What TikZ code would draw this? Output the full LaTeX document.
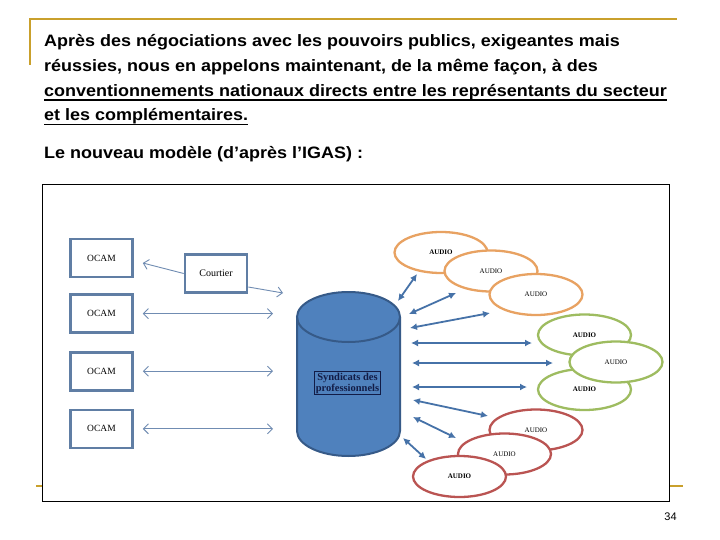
\documentclass[tikz,border=0pt]{standalone}
\usepackage{fontspec}
\usepackage{graphicx}
\setmainfont{Liberation Serif}
\setsansfont{Liberation Sans}
\usetikzlibrary{arrows.meta,positioning,shapes.geometric}
\definecolor{gold}{RGB}{201,160,44}
\definecolor{ocamblue}{RGB}{96,126,164}
\definecolor{thinblue}{RGB}{112,140,178}
\definecolor{cylfill}{RGB}{79,129,189}
\definecolor{cyldraw}{RGB}{54,90,136}
\definecolor{navy}{RGB}{18,28,70}
\definecolor{audorange}{RGB}{232,162,98}
\definecolor{audgreen}{RGB}{158,188,96}
\definecolor{audred}{RGB}{186,84,82}
\definecolor{arrblue}{RGB}{70,114,168}
\tikzset{
  headline/.style={anchor=base west, inner sep=0pt, font=\sffamily\bfseries\fontsize{16.5}{20}\selectfont},
  uline/.style={line width=1.3pt},
  actor/.style={draw=ocamblue, line width=2.6pt, fill=white, minimum width=62pt,
    minimum height=38pt, font=\fontsize{9.5}{11}\selectfont},
  audio/.style={ellipse, line width=2.3pt, fill=white, minimum width=93pt,
    minimum height=41pt, inner sep=0pt, font=\fontsize{7}{8}\selectfont},
  thinflow/.style={draw=thinblue, line width=0.9pt},
  bidir/.style={draw=arrblue, line width=1.8pt,
    {Latex[length=7pt,width=7pt]}-{Latex[length=7pt,width=7pt]}}
}
\newcommand{\barb}{Straight Barb[length=5pt,width=10pt]}
\newcommand{\wide}[1]{\scalebox{1.09}[1]{#1}}

\begin{document}
\begin{tikzpicture}[x=1pt, y=-1pt]
  \useasboundingbox[fill=white] (0,0) rectangle (720,540);

  % cadre du titre
  \draw[gold, line width=2.5pt] (30,65) -- (30,19) -- (677,19);
  \draw[gold, line width=2.5pt] (36,486) -- (683,486);

  \node[headline] (l1) at (44,46.5) {\wide{Après des négociations avec les pouvoirs publics, exigeantes mais}};
  \node[headline] (l2) at (44,72) {\wide{réussies, nous en appelons maintenant, de la même façon, à des}};
  \node[headline] (l3) at (44,96.5) {\wide{conventionnements nationaux directs entre les représentants du secteur}};
  \node[headline] (l4) at (44,121) {\wide{et les complémentaires.}};
  \node[headline] (l5) at (44,159) {\wide{Le nouveau modèle (d’après l’IGAS) :}};
  \draw[uline] ([yshift=-3.5pt]l3.base west) -- ([yshift=-3.5pt]l3.base east);
  \draw[uline] ([yshift=-3.5pt]l4.base west) -- ([yshift=-3.5pt]l4.base east);

  \draw[fill=white, line width=0.8pt] (42,184) rectangle (669,501);

  % OCAM et courtier
  \node[actor] (ocam1) at (101.5,258) {OCAM};
  \node[actor, below=15pt of ocam1] (ocam2) {OCAM};
  \node[actor, below=17pt of ocam2] (ocam3) {OCAM};
  \node[actor, below=17pt of ocam3] (ocam4) {OCAM};
  \node[actor, font=\fontsize{10}{12}\selectfont] (court) at (216,273.5) {Courtier};

  % cylindre
  \fill[cylfill] (297,317) -- (297,431) arc[start angle=180, end angle=0, x radius=51.5, y radius=25]
    -- (400,317) arc[start angle=0, end angle=-180, x radius=51.5, y radius=25] -- cycle;
  \draw[cyldraw, line width=2pt] (297,317) -- (297,431) arc[start angle=180, end angle=0, x radius=51.5, y radius=25]
    -- (400,317);
  \draw[cyldraw, line width=2pt] (348.5,317) ellipse[x radius=51.5, y radius=25];
  \node[draw=navy, line width=1.2pt, fill=cylfill, text=navy, align=center, inner sep=1.5pt,
    font=\bfseries\fontsize{10.5}{11}\selectfont] (synd) at (347.5,383) {Syndicats des\\professionnels};

  \coordinate (cylw) at (273,0);
  \coordinate (cylc) at (283,293);
  \draw[thinflow, -{\barb}] (court.west) -- ([xshift=9pt, yshift=-5pt]ocam1.east);
  \draw[thinflow, -{\barb}] ([yshift=-13.5pt]court.east) -- (cylc);
  \foreach \k in {2,3,4}
    \draw[thinflow, {\barb}-{\barb}] ([xshift=9pt]ocam\k.east) -- (ocam\k.east -| cylw);

  % audioprothésistes
  \node[audio, draw=audorange, font=\bfseries\fontsize{7}{8}\selectfont] (ao1) at (441,252.5) {AUDIO};
  \node[audio, draw=audorange] (ao2) at (491,271) {AUDIO};
  \node[audio, draw=audorange] (ao3) at (536,294.5) {AUDIO};
  \node[audio, draw=audgreen, font=\bfseries\fontsize{7}{8}\selectfont] (ag1) at (584.5,335) {AUDIO};
  \node[audio, draw=audgreen, font=\bfseries\fontsize{7}{8}\selectfont] (ag3) at (584.5,389.5) {AUDIO};
  \node[audio, draw=audgreen] (ag2) at (616,362) {AUDIO};
  \node[audio, draw=audred] (ar1) at (536,430) {AUDIO};
  \node[audio, draw=audred] (ar2) at (504.5,454) {AUDIO};
  \node[audio, draw=audred, font=\bfseries\fontsize{7}{8}\selectfont] (ar3) at (459.5,476.5) {AUDIO};

  \foreach \n/\sx/\sy/\tx/\ty in {1/398/301/417/274, 2/409/314/456/293, 3/410/328/490/313,
      4/411/343/532/343, 5/412/363/553/363, 6/412/387/527/387,
      7/413/400/488/416, 8/413/417/456/438, 9/403/438/426/459} {
    \coordinate (s\n) at (\sx,\sy);
    \coordinate (t\n) at (\tx,\ty);
    \draw[bidir] (s\n) -- (t\n);
  }

  \node[font=\sffamily\fontsize{11}{13}\selectfont] (page) at (670.5,516.5) {34};
\end{tikzpicture}
\end{document}
